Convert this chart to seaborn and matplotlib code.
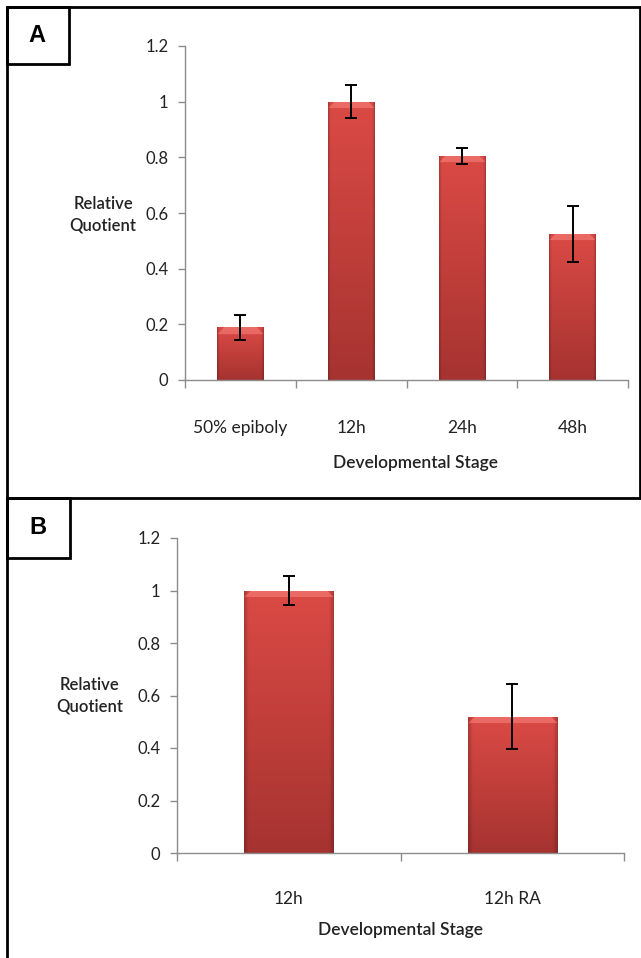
import numpy as np
import pandas as pd
import matplotlib
matplotlib.use("Agg")
import matplotlib.pyplot as plt
from matplotlib.patches import Rectangle
from matplotlib.lines import Line2D
import seaborn as sns

# panel A: expression across developmental stages
stages_a = ["50% epiboly", "12h", "24h", "48h"]
rq_a = [0.19, 1.0, 0.805, 0.525]
err_a = [0.045, 0.06, 0.03, 0.10]

# panel B: 12h control vs retinoic acid
stages_b = ["12h", "12h RA"]
rq_b = [1.0, 0.52]
err_b = [0.055, 0.125]

yticks = [0, 0.2, 0.4, 0.6, 0.8, 1, 1.2]
ytick_labels = ["0", "0.2", "0.4", "0.6", "0.8", "1", "1.2"]

W, H = 641, 958
FONT = ["Lato", "DejaVu Sans"]

sns.set_style("white")
plt.rcParams["font.family"] = FONT


def shade_bars(ax):
    """Replace flat bar fill with a red vertical gradient + light top bevel."""
    fig = ax.figure
    fig.canvas.draw()
    for p in list(ax.patches):
        x0, y0 = p.get_x(), p.get_y()
        w, h = p.get_width(), p.get_height()
        if h <= 0:
            continue
        (px0, py0), (px1, py1) = ax.transData.transform([(x0, y0), (x0 + w, y0 + h)])
        ny, nx = max(int(py1 - py0), 2), max(int(px1 - px0), 2)
        t = np.linspace(0, 1, ny)[:, None]
        top = np.array([0.86, 0.29, 0.27])
        bot = np.array([0.65, 0.20, 0.19])
        img = bot + (top - bot) * t[..., None]
        img = np.repeat(img, nx, axis=1)
        xs = np.linspace(0, 1, nx)
        edge = 1 - 0.2 * np.clip(1 - np.minimum(xs, 1 - xs) / 0.05, 0, 1)
        img = img * edge[None, :, None]
        # light bevel along the top, slanted at the corners
        bevel = 7
        for k in range(bevel):
            row = ny - 1 - k
            inset = int(bevel - k)
            img[row, inset:nx - inset, :] = img[row, inset:nx - inset, :] * 0.45 + np.array([0.97, 0.52, 0.50]) * 0.55
        im = ax.imshow(np.clip(img, 0, 1), extent=[x0, x0 + w, y0, y0 + h],
                       origin="lower", aspect="auto", zorder=p.get_zorder(),
                       interpolation="bilinear")
        im.set_clip_path(p)
        p.set_facecolor("none")
        p.set_edgecolor("none")


def draw_panel(ax, cats, vals, errs, width, xlim, tick_pad, ylab_xy, xlab_xy):
    df = pd.DataFrame({"stage": cats, "rq": vals})
    sns.barplot(data=df, x="stage", y="rq", color="#c8403c", width=width,
                ax=ax, errorbar=None, saturation=1)
    ax.errorbar(np.arange(len(cats)), vals, yerr=errs, fmt="none",
                ecolor="black", elinewidth=1.4, capsize=4.5, capthick=1.4, zorder=5)
    ax.set_ylim(0, 1.2)
    ax.set_xlim(*xlim)
    shade_bars(ax)
    ax.set_xlim(*xlim)
    ax.set_ylim(0, 1.2)

    for s in ["top", "right"]:
        ax.spines[s].set_visible(False)
    for s in ["left", "bottom"]:
        ax.spines[s].set_color("#8c8c8c")
        ax.spines[s].set_linewidth(1.0)

    ax.set_yticks(yticks)
    ax.set_yticklabels(ytick_labels)
    ax.tick_params(axis="y", direction="out", length=5, width=1, color="#8c8c8c",
                   labelsize=12, labelcolor="#222222", pad=7, left=True)
    ax.set_xticks(np.arange(len(cats)))
    ax.set_xticklabels(cats)
    ax.set_xticks(np.arange(len(cats) + 1) - 0.5, minor=True)
    ax.tick_params(axis="x", which="major", length=0, labelsize=12.5,
                   labelcolor="#222222", pad=tick_pad)
    ax.tick_params(axis="x", which="minor", direction="out", length=6, width=1,
                   color="#8c8c8c", bottom=True)

    ax.set_ylabel("Relative\nQuotient", rotation=0, fontsize=12,
                  fontweight="semibold", color="#222222", ha="center", va="center",
                  linespacing=1.45)
    ax.yaxis.set_label_coords(*ylab_xy)
    ax.set_xlabel("Developmental Stage", fontsize=12.5, fontweight="semibold",
                  color="#222222", va="center")
    ax.xaxis.set_label_coords(*xlab_xy)


fig = plt.figure(figsize=(W / 100, H / 100), dpi=100)


def fx(px):
    return px / W


def fy(py):
    return 1 - py / H


ax_a = fig.add_axes([fx(185), fy(380), fx(628) - fx(185), fy(46) - fy(380)])
draw_panel(ax_a, stages_a, rq_a, err_a, width=0.42, xlim=(-0.5, 3.3),
           tick_pad=29, ylab_xy=(-0.185, 0.495), xlab_xy=(0.52, -0.25))

ax_b = fig.add_axes([fx(177), fy(853), fx(624) - fx(177), fy(538) - fy(853)])
draw_panel(ax_b, stages_b, rq_b, err_b, width=0.40, xlim=(-0.5, 1.5),
           tick_pad=27, ylab_xy=(-0.195, 0.50), xlab_xy=(0.50, -0.245))

# outer frame + panel separator
lw = 2.0
for (x1, y1, x2, y2) in [(7, 7, 640, 7), (7, 7, 7, 958), (640, 7, 640, 498),
                         (7, 498, 640, 498)]:
    fig.add_artist(Line2D([fx(x1), fx(x2)], [fy(y1), fy(y2)], color="black",
                          linewidth=lw, transform=fig.transFigure))

# panel letter boxes
for letter, (x0, y0, x1, y1) in [("A", (7, 7, 69, 64)), ("B", (7, 498, 70, 558))]:
    fig.add_artist(Rectangle((fx(x0), fy(y1)), fx(x1) - fx(x0), fy(y0) - fy(y1),
                             facecolor="white", edgecolor="black", linewidth=lw,
                             transform=fig.transFigure))
    fig.text(fx((x0 + x1) / 2 - 1), fy((y0 + y1) / 2), letter, fontsize=17,
             fontweight="bold", ha="center", va="center", color="black",
             family=["Liberation Sans", "DejaVu Sans"])

fig.savefig("out.png", dpi=100)
